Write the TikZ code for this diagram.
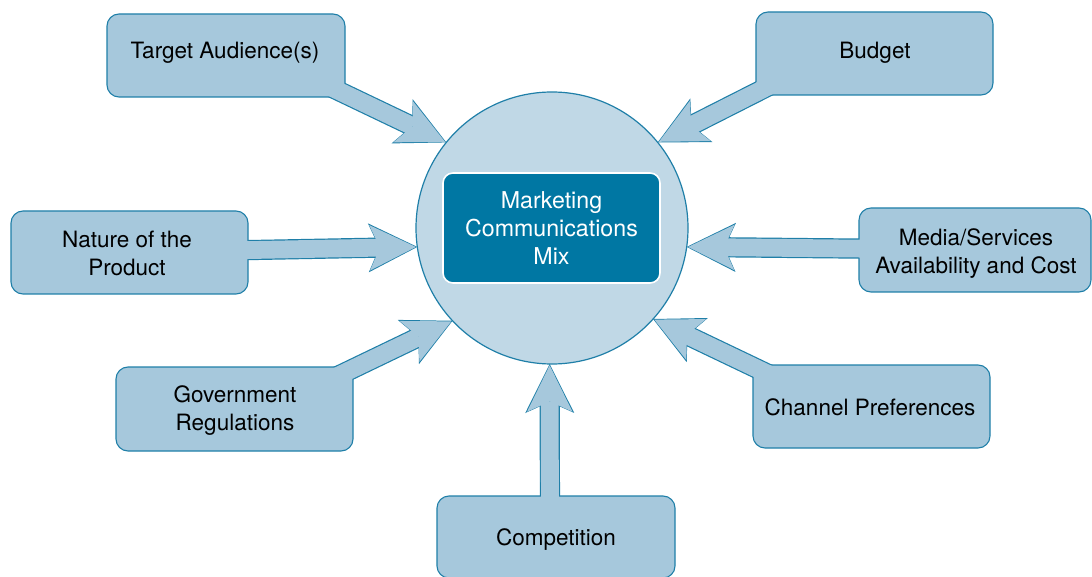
\documentclass[tikz,border=0pt]{standalone}
\usepackage{fontspec}
\setmainfont{TeX Gyre Heros}
\usetikzlibrary{arrows.meta}
\definecolor{bord}{HTML}{1F7FA8}
\definecolor{boxf}{HTML}{A6C8DC}
\definecolor{circf}{HTML}{C0D8E6}
\definecolor{innf}{HTML}{0077A3}
\pgfdeclarelayer{bgc}
\pgfdeclarelayer{aout}
\pgfdeclarelayer{ain}
\pgfdeclarelayer{txt}
\pgfsetlayers{bgc,aout,main,ain,txt}
\newcommand\mkarrow[2]{%
  \begin{pgfonlayer}{aout}\draw[arrout] #1 -- #2;\end{pgfonlayer}%
  \begin{pgfonlayer}{ain}\draw[arrin] #1 -- #2;\end{pgfonlayer}}
\begin{document}
\begin{tikzpicture}[x=1pt,y=-1pt,
  bx/.style={rectangle, rounded corners=12pt, draw=bord, fill=boxf, line width=1.1pt, inner sep=0pt, outer sep=0pt},
  lbl/.style={font=\fontsize{22.5}{28}\selectfont, align=center, text=black, inner sep=0pt},
  one/.style={text height=16.1pt, text depth=0pt},
  arrout/.style={draw=bord, line width=20.2pt, -{Stealth[length=49pt,width=49pt,inset=11pt,line width=0pt]}},
  arrin/.style={draw=boxf, line width=17.8pt, shorten >=1.4pt, -{Stealth[length=46.4pt,width=45.5pt,inset=10.4pt,line width=0pt]}},
]
\useasboundingbox (0,0) rectangle (1092,577);
\begin{pgfonlayer}{bgc}
\node[circle, minimum size=272pt, inner sep=0pt, outer sep=0pt, fill=circf, draw=bord, line width=1.2pt] (circ) at (552,228) {};
\node[rectangle, rounded corners=10pt, minimum width=217pt, minimum height=110pt, fill=innf, draw=white, line width=1.6pt, inner sep=0pt, text=white, align=center, font=\fontsize{23.2}{28}\selectfont] (mix) at (551.5,228) {Marketing\\Communications\\Mix};
\end{pgfonlayer}

\node[bx, minimum width=238pt, minimum height=83pt] (tgt) at (226,55.5) {};
\node[bx, minimum width=237pt, minimum height=83pt] (bud) at (874.5,53.5) {};
\node[bx, minimum width=237pt, minimum height=83pt] (nat) at (129.5,252.5) {};
\node[bx, minimum width=232pt, minimum height=84pt] (med) at (975,250) {};
\node[bx, minimum width=237pt, minimum height=84pt] (gov) at (234.5,409) {};
\node[bx, minimum width=237pt, minimum height=83pt] (chn) at (871.5,406.5) {};
\node[bx, minimum width=238pt, minimum height=82pt] (cmp) at (556,537) {};

\mkarrow{([shift={(75,17.5)}]tgt.center)}{(circ.141.5)}
\mkarrow{([shift={(-81.8,20.5)}]bud.center)}{(circ.39.7)}
\mkarrow{([shift={(70.5,-1.5)}]nat.center)}{(circ.188.8)}
\mkarrow{([shift={(-75,-1)}]med.center)}{(circ.352.1)}
\mkarrow{([shift={(64.5,-14.4)}]gov.center)}{(circ.223.5)}
\mkarrow{([shift={(-63.5,-13.5)}]chn.center)}{(circ.318.2)}
\mkarrow{([shift={(-6,-7)}]cmp.center)}{(circ.269.2)}

\begin{pgfonlayer}{txt}
\node[lbl, one] (tgtT) at (225,50) {Target Audience(s)};
\node[lbl, one] (budT) at (875,50) {Budget};
\node[lbl] (natT) at (127,253) {Nature of the\\Product};
\node[lbl] (medT) at (976,253.5) {Media/Services\\Availability and Cost};
\node[lbl] (govT) at (235,411) {Government\\Regulations};
\node[lbl, one] (chnT) at (870,407) {Channel Preferences};
\node[lbl, one] (cmpT) at (556,537) {Competition};
\end{pgfonlayer}
\end{tikzpicture}
\end{document}
